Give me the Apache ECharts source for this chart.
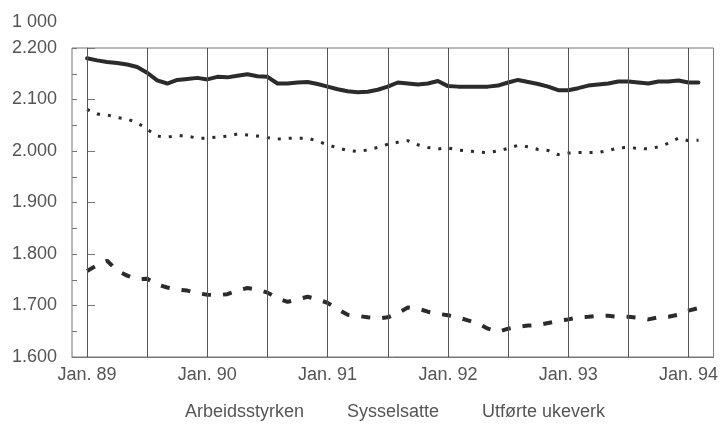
<!DOCTYPE html>
<html>
<head>
<meta charset="utf-8">
<script src="https://cdn.jsdelivr.net/npm/echarts@6/dist/echarts.min.js"></script>
<style>
  html, body { margin: 0; padding: 0; background: #fff; }
  #chart { width: 721px; height: 426px; }
</style>
</head>
<body>
<div id="chart"></div>
<script>
// månedlige tall, jan. 89 - feb. 94 (1 000 personer / 1 000 ukeverk)
var seriesNames = ['Arbeidsstyrken', 'Sysselsatte', 'Utførte ukeverk']

var arbeidsstyrken = [
  2180, 2176, 2173, 2171, 2168, 2163, 2152, 2137, 2131, 2138, 2140, 2142,
  2139, 2144, 2143, 2146, 2149, 2145, 2144, 2131, 2131, 2133, 2134, 2130,
  2125, 2120, 2116, 2114, 2115, 2119, 2125, 2133, 2131, 2129, 2131, 2136,
  2126, 2125, 2125, 2125, 2125, 2127, 2133, 2138, 2134, 2130, 2125, 2118,
  2118, 2122, 2127, 2129, 2131, 2135, 2135, 2133, 2131, 2135, 2135, 2137,
  2133, 2133
]

var sysselsatte = [
  2081, 2072, 2070, 2065, 2062, 2055, 2042, 2029, 2027, 2030, 2029, 2025,
  2025, 2027, 2029, 2033, 2031, 2029, 2026, 2023, 2025, 2025, 2025, 2019,
  2012, 2006, 2001, 1999, 2002, 2007, 2013, 2017, 2020, 2012, 2007, 2004,
  2006, 2002, 2000, 1998, 1997, 2000, 2005, 2011, 2008, 2003, 2001, 1993,
  1996, 1997, 1997, 1997, 2001, 2006, 2007, 2005, 2004, 2008, 2015, 2025,
  2020, 2021
]

var ukeverk = [
  1767, 1778, 1787, 1768, 1758, 1751, 1752, 1741, 1735, 1731, 1729, 1724,
  1721, 1720, 1722, 1729, 1734, 1731, 1725, 1714, 1707, 1712, 1717, 1712,
  1705, 1693, 1682, 1680, 1677, 1675, 1677, 1685, 1696, 1694, 1688, 1684,
  1681, 1677, 1671, 1665, 1655, 1649, 1655, 1659, 1661, 1662, 1666, 1670,
  1673, 1677, 1678, 1680, 1680, 1678, 1678, 1676, 1673, 1677, 1678, 1682,
  1690, 1695
]

// måneder etter jan. 89
var labelMonths = [0, 12, 24, 36, 48, 60]
var labelTexts = ['Jan. 89', 'Jan. 90', 'Jan. 91', 'Jan. 92', 'Jan. 93', 'Jan. 94']
var gridMonths = [0, 6, 12, 18, 24, 30, 36, 42, 48, 54, 60]

var font = 'Liberation Sans'
var textColor = '#555'
var lineColor = '#2b2b2b'
var frameColor = '#777'

function toPoints(values) {
  return values.map(function (v, i) { return [i, v] })
}

var chart = echarts.init(document.getElementById('chart'))
chart.setOption({
  animation: false,
  backgroundColor: '#fff',
  textStyle: { fontFamily: font },
  grid: {
    left: 72, right: 1, top: 48, bottom: 69,
    show: true, borderColor: frameColor, borderWidth: 1
  },
  graphic: [
    {
      type: 'text',
      left: 12,
      top: 13,
      style: { text: '1 000', fontSize: 18, fontFamily: font, fill: textColor }
    }
  ],
  legend: {
    data: seriesNames,
    left: 174,
    top: 398,
    itemWidth: 0,
    itemHeight: 0,
    itemGap: 37,
    selectedMode: false,
    textStyle: { fontFamily: font, fontSize: 18, color: textColor }
  },
  xAxis: {
    type: 'value',
    min: -1.5,
    max: 62.5,
    axisLine: { show: true, lineStyle: { color: frameColor, width: 1 } },
    axisTick: { show: false },
    splitLine: { show: false },
    axisLabel: {
      customValues: labelMonths,
      margin: 9,
      fontSize: 18,
      color: textColor,
      fontFamily: font,
      formatter: function (v) {
        var i = labelMonths.indexOf(v)
        return i >= 0 ? labelTexts[i] : ''
      }
    }
  },
  yAxis: [
    {
      type: 'value',
      min: 1600,
      max: 2200,
      interval: 100,
      axisLine: { show: true, lineStyle: { color: frameColor, width: 1 } },
      axisTick: { show: true, inside: true, length: 8, lineStyle: { color: frameColor } },
      splitLine: { show: false },
      axisLabel: {
        margin: 15,
        fontSize: 18,
        color: textColor,
        fontFamily: font,
        formatter: function (v) {
          return (v / 1000).toFixed(3)
        }
      }
    },
    {
      // halve intervaller: korte streker innenfor aksen
      type: 'value',
      position: 'left',
      min: 1600,
      max: 2200,
      interval: 50,
      axisLine: { show: false },
      axisTick: { show: true, inside: true, length: 5, lineStyle: { color: frameColor } },
      axisLabel: { show: false },
      splitLine: { show: false }
    }
  ],
  series: [
    {
      // loddrette hjelpelinjer hvert halvår
      name: 'grid',
      type: 'line',
      data: [],
      silent: true,
      z: 1,
      markLine: {
        silent: true,
        symbol: 'none',
        label: { show: false },
        lineStyle: { color: '#555', width: 1, type: 'solid' },
        data: gridMonths.map(function (m) { return { xAxis: m } })
      }
    },
    {
      name: seriesNames[0],
      type: 'line',
      data: toPoints(arbeidsstyrken),
      showSymbol: false,
      z: 3,
      lineStyle: { color: lineColor, width: 4, cap: 'round', join: 'round' },
      itemStyle: { color: lineColor }
    },
    {
      name: seriesNames[1],
      type: 'line',
      data: toPoints(sysselsatte),
      showSymbol: false,
      z: 3,
      lineStyle: { color: lineColor, width: 3, type: [3, 8] },
      itemStyle: { color: lineColor }
    },
    {
      name: seriesNames[2],
      type: 'line',
      data: toPoints(ukeverk),
      showSymbol: false,
      z: 3,
      lineStyle: { color: lineColor, width: 4, type: [9, 12] },
      itemStyle: { color: lineColor }
    }
  ]
})
</script>
</body>
</html>
